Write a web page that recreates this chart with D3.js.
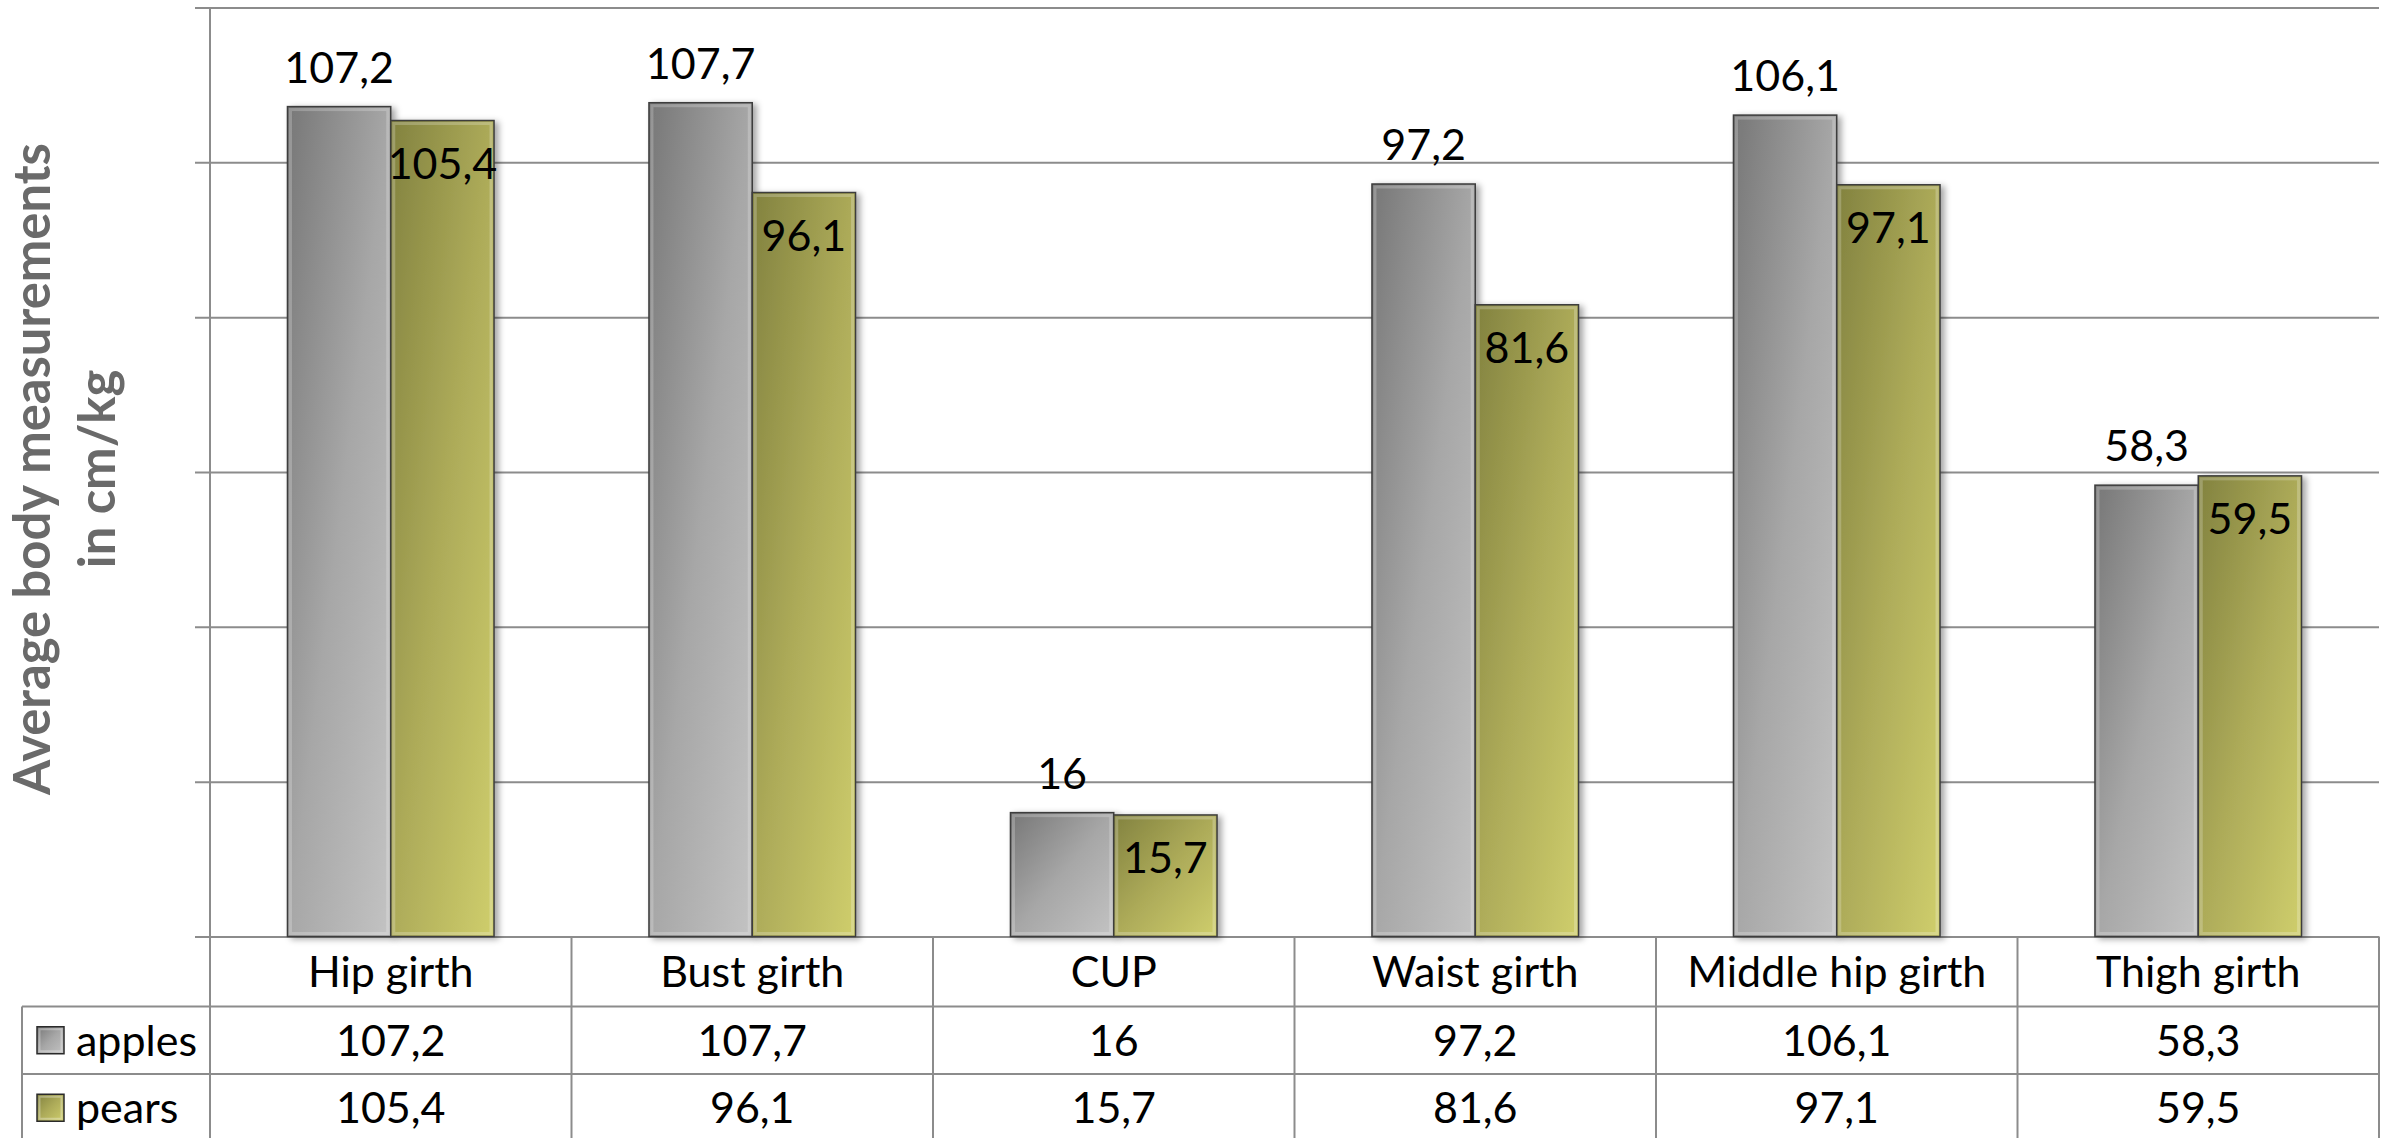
<!DOCTYPE html>
<html>
<head>
<meta charset="utf-8">
<script src="https://cdn.jsdelivr.net/npm/d3@7"></script>
<style>
  html, body { margin: 0; padding: 0; background: #ffffff; }
  svg { display: block; }
  text { font-family: Lato, "Open Sans", sans-serif; }
</style>
</head>
<body>
<svg id="chart" width="2387" height="1138"></svg>
<script>
// Average body measurements by body shape
const categories = ["Hip girth", "Bust girth", "CUP", "Waist girth", "Middle hip girth", "Thigh girth"];
const seriesNames = ["apples", "pears"];
const apples = [107.2, 107.7, 16, 97.2, 106.1, 58.3];
const pears  = [105.4, 96.1, 15.7, 81.6, 97.1, 59.5];
const yTicks = [0, 20, 40, 60, 80, 100, 120];
const yTitle = ["Average body measurements", "in cm/kg"];

const W = 2387, H = 1138;
const plot = { left: 210, right: 2379, top: 7.5, bottom: 936.5 };
const table = { legendLeft: 22, headerBottom: 1006.5, row1Bottom: 1074, row2Bottom: 1141.5 };
const gridColor = "#8c8c8c";
const fontSize = 43;

const svg = d3.select("#chart");
const defs = svg.append("defs");

// Bar fills: darker top-left fading to lighter bottom-right
const fills = {
  apples: [["0%", "#777777"], ["50%", "#a7a7a7"], ["100%", "#c3c3c3"]],
  pears:  [["0%", "#82823f"], ["50%", "#adab59"], ["100%", "#cfce6c"]]
};
Object.entries(fills).forEach(([name, stops]) => {
  const g = defs.append("linearGradient")
    .attr("id", "grad-" + name)
    .attr("x1", 0).attr("y1", 0).attr("x2", 1).attr("y2", 1);
  stops.forEach(([o, c]) => g.append("stop").attr("offset", o).attr("stop-color", c));
});

const shadow = defs.append("filter").attr("id", "shadow")
  .attr("x", "-20%").attr("y", "-5%").attr("width", "150%").attr("height", "115%");
shadow.append("feDropShadow")
  .attr("dx", 4).attr("dy", 2).attr("stdDeviation", 3)
  .attr("flood-color", "#000").attr("flood-opacity", 0.35);

const x = d3.scaleBand().domain(categories).range([plot.left, plot.right]).padding(0);
// two bars per group with a gap of 1.5 bar widths between groups
const xInner = d3.scaleBand().domain(seriesNames)
  .range([0, x.bandwidth()]).paddingInner(0).paddingOuter(0.75);
const y = d3.scaleLinear().domain([0, 120]).range([plot.bottom, plot.top]);

const fmt = v => String(v).replace(".", ",");

// Horizontal gridlines (extending left past the axis as tick marks)
const gy = svg.append("g").attr("transform", `translate(${plot.right},0)`);
gy.call(d3.axisLeft(y).tickValues(yTicks).tickSize(plot.right - plot.left + 15).tickFormat("").tickSizeOuter(0));
gy.select(".domain").remove();
gy.selectAll(".tick line").attr("stroke", gridColor).attr("stroke-width", 2);

// Bars
const data = categories.map((c, i) => ({ cat: c, values: [
  { key: "apples", value: apples[i] },
  { key: "pears", value: pears[i] }
]}));

const groups = svg.append("g").selectAll("g.group").data(data).join("g")
  .attr("class", "group")
  .attr("transform", d => `translate(${x(d.cat)},0)`);

const bars = groups.selectAll("g.bar").data(d => d.values).join("g")
  .attr("class", "bar")
  .attr("filter", "url(#shadow)");

bars.append("rect")
  .attr("x", d => xInner(d.key))
  .attr("y", d => y(d.value))
  .attr("width", xInner.bandwidth())
  .attr("height", d => y(0) - y(d.value))
  .attr("fill", d => `url(#grad-${d.key})`)
  .attr("stroke", "#3c3c3c")
  .attr("stroke-width", 1.5);

// soft bevel highlight inside each bar
bars.append("rect")
  .attr("x", d => xInner(d.key) + 3)
  .attr("y", d => y(d.value) + 3)
  .attr("width", xInner.bandwidth() - 6)
  .attr("height", d => Math.max(0, y(0) - y(d.value) - 6))
  .attr("fill", "none")
  .attr("stroke", "#ffffff")
  .attr("stroke-opacity", 0.22)
  .attr("stroke-width", 3);

// Value labels: apples above the bar, pears inside its top
groups.selectAll("text.value").data(d => d.values).join("text")
  .attr("class", "value")
  .attr("x", d => xInner(d.key) + xInner.bandwidth() / 2)
  .attr("y", d => d.key === "apples" ? y(d.value) - 24 : y(d.value) + 58)
  .attr("text-anchor", "middle")
  .attr("font-size", fontSize)
  .attr("fill", "#000")
  .text(d => fmt(d.value));

// Vertical axis line, running down through the data table
svg.append("line")
  .attr("x1", plot.left).attr("x2", plot.left)
  .attr("y1", plot.top).attr("y2", H)
  .attr("stroke", gridColor).attr("stroke-width", 2);

// Data table
const tbl = svg.append("g");
const line = (x1, y1, x2, y2) => tbl.append("line")
  .attr("x1", x1).attr("y1", y1).attr("x2", x2).attr("y2", y2)
  .attr("stroke", gridColor).attr("stroke-width", 2);

line(table.legendLeft, table.headerBottom, plot.right, table.headerBottom);
line(table.legendLeft, table.row1Bottom, plot.right, table.row1Bottom);
line(table.legendLeft, table.row2Bottom, plot.right, table.row2Bottom);
line(table.legendLeft, table.headerBottom, table.legendLeft, table.row2Bottom);
categories.forEach(c => line(x(c) + x.bandwidth(), plot.bottom, x(c) + x.bandwidth(), table.row2Bottom));

const rowMid = [
  (plot.bottom + table.headerBottom) / 2,
  (table.headerBottom + table.row1Bottom) / 2,
  (table.row1Bottom + table.row2Bottom) / 2
];

tbl.selectAll("text.cat").data(categories).join("text")
  .attr("class", "cat")
  .attr("x", d => x(d) + x.bandwidth() / 2)
  .attr("y", rowMid[0])
  .attr("dy", "0.36em")
  .attr("text-anchor", "middle")
  .attr("font-size", fontSize)
  .text(d => d);

[apples, pears].forEach((vals, r) => {
  tbl.selectAll("text.row" + r).data(vals).join("text")
    .attr("class", "row" + r)
    .attr("x", (d, i) => x(categories[i]) + x.bandwidth() / 2)
    .attr("y", rowMid[r + 1])
    .attr("dy", "0.36em")
    .attr("text-anchor", "middle")
    .attr("font-size", fontSize)
    .text(d => fmt(d));
});

// Legend keys in the table's first column
seriesNames.forEach((s, r) => {
  const cy = rowMid[r + 1];
  const k = tbl.append("g");
  k.append("rect")
    .attr("x", 37).attr("y", cy - 13.5)
    .attr("width", 27).attr("height", 27)
    .attr("fill", `url(#grad-${s})`)
    .attr("stroke", "#2a2a2a").attr("stroke-width", 1.5);
  k.append("rect")
    .attr("x", 39.5).attr("y", cy - 11)
    .attr("width", 22).attr("height", 22)
    .attr("fill", "none")
    .attr("stroke", "#ffffff").attr("stroke-opacity", 0.3).attr("stroke-width", 2);
  tbl.append("text")
    .attr("x", 76).attr("y", cy).attr("dy", "0.36em")
    .attr("font-size", fontSize)
    .text(s);
});

// Y axis title, two centered lines
const titleG = svg.append("g").attr("transform", "translate(0,469) rotate(-90)");
const t1 = titleG.append("text")
  .attr("x", 0).attr("y", 50)
  .attr("text-anchor", "middle")
  .attr("font-size", 47).attr("font-weight", "bold").attr("fill", "#6a6a6a")
  .text(yTitle[0]);
// scale to the intended line length
const targetLen = 652;
const len = t1.node().getComputedTextLength();
const titleSize = 47 * targetLen / len;
t1.attr("font-size", titleSize);
titleG.append("text")
  .attr("x", 0).attr("y", 115)
  .attr("text-anchor", "middle")
  .attr("font-size", titleSize).attr("font-weight", "bold").attr("fill", "#6a6a6a")
  .text(yTitle[1]);
</script>
</body>
</html>
